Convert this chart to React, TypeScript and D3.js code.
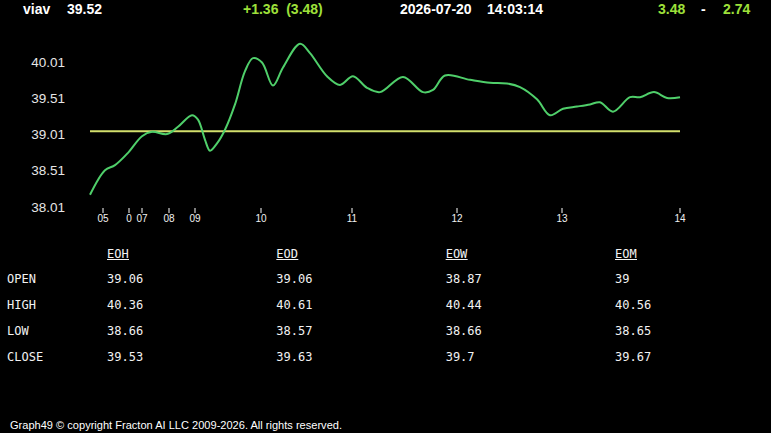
import React, { useEffect } from "react";
import * as d3 from "d3";

// ---- data ----
const symbol = "viav";
const lastPrice = "39.52";
const changeText = "+1.36  (3.48)";
const dateText = "2026-07-20";
const timeText = "14:03:14";
const rangeHigh = "3.48";
const rangeLow = "2.74";

// sample position (bar index) and price
const samplePos = [0, 15, 25, 38, 52, 62, 77, 88, 102, 108, 115, 120, 127, 135, 145, 155, 163, 172, 183, 193, 210, 220, 237, 250, 263, 277, 290, 313, 333, 343, 355, 380, 400, 417, 430, 447, 460, 473, 487, 500, 510, 523, 540, 550, 564, 577, 590];
const sampleVal = [38.18, 38.52, 38.59, 38.76, 38.99, 39.05, 39.02, 39.12, 39.28, 39.22, 38.94, 38.79, 38.89, 39.08, 39.43, 39.89, 40.07, 40.01, 39.69, 39.94, 40.27, 40.14, 39.82, 39.70, 39.82, 39.66, 39.60, 39.81, 39.60, 39.63, 39.83, 39.77, 39.73, 39.72, 39.67, 39.50, 39.28, 39.37, 39.40, 39.43, 39.46, 39.33, 39.53, 39.53, 39.60, 39.52, 39.53];

const openRef = 39.06;

const yTickValues = [40.01, 39.51, 39.01, 38.51, 38.01];
const xTickPos = [13, 39, 52, 79, 105, 171, 262, 367, 472, 590];
const xTickLabels = ["05", "0", "07", "08", "09", "10", "11", "12", "13", "14"];

const tableCols = ["EOH", "EOD", "EOW", "EOM"];
const tableRows = ["OPEN", "HIGH", "LOW", "CLOSE"];
const eohVals = ["39.06", "40.36", "38.66", "39.53"];
const eodVals = ["39.06", "40.61", "38.57", "39.63"];
const eowVals = ["38.87", "40.44", "38.66", "39.7"];
const eomVals = ["39", "40.56", "38.65", "39.67"];
const tableVals = [eohVals, eodVals, eowVals, eomVals];

const footer = "Graph49 \u00A9 copyright Fracton AI LLC 2009-2026. All rights reserved.";

// ---- layout ----
const W = 771;
const H = 433;
const GREEN_TXT = "#9ee03a";
const LINE = "#4fcf6a";
const REF = "#d2df6c";

export default function App() {
  useEffect(() => {
    document.body.style.margin = "0";
    document.body.style.background = "#000";
  }, []);

  const x = d3.scaleLinear().domain([0, 590]).range([90, 680]);
  const y = d3.scaleLinear().domain([38.01, 40.01]).range([207, 62.5]);

  const pts: [number, number][] = samplePos.map((p, i) => [p, sampleVal[i]]);
  const line = d3
    .line<[number, number]>()
    .x((d) => x(d[0]))
    .y((d) => y(d[1]))
    .curve(d3.curveCatmullRom.alpha(0.5));

  const colX = d3.scalePoint<string>().domain(tableCols).range([107, 615]);
  const rowY = d3.scalePoint<string>().domain(tableRows).range([279, 357]);

  const hdr = { fontFamily: "'Liberation Sans', Arial, sans-serif", fontWeight: 700, fontSize: 14 };
  const mono = "'DejaVu Sans Mono', monospace";

  return (
    <svg width={W} height={H} style={{ display: "block", background: "#000" }}>
      <rect width={W} height={H} fill="#000" />
      {/* header */}
      <text x={23} y={14} fill="#fff" {...hdr}>{symbol}</text>
      <text x={67} y={14} fill="#fff" {...hdr}>{lastPrice}</text>
      <text x={243} y={14} fill={GREEN_TXT} {...hdr} style={{ whiteSpace: "pre" }}>{changeText}</text>
      <text x={400} y={14} fill="#fff" {...hdr}>{dateText}</text>
      <text x={487} y={14} fill="#fff" {...hdr}>{timeText}</text>
      <text x={658} y={14} fill={GREEN_TXT} {...hdr}>{rangeHigh}</text>
      <text x={701} y={14} fill="#fff" {...hdr}>-</text>
      <text x={723} y={14} fill={GREEN_TXT} {...hdr}>{rangeLow}</text>

      {/* y axis labels */}
      {yTickValues.map((v) => (
        <text
          key={v}
          x={65}
          y={y(v)}
          textAnchor="end"
          dominantBaseline="central"
          fill="#e6e6e6"
          fontFamily="'Liberation Sans', Arial, sans-serif"
          fontSize={13.5}
        >
          {v.toFixed(2)}
        </text>
      ))}

      {/* x ticks */}
      {xTickPos.map((p, i) => (
        <g key={i}>
          <line x1={x(p)} x2={x(p)} y1={208} y2={213} stroke="#fff" strokeWidth={1} />
          <text
            x={x(p)}
            y={218.5}
            textAnchor="middle"
            dominantBaseline="central"
            fill="#f0f0f0"
            fontFamily="'Liberation Sans', Arial, sans-serif"
            fontSize={10}
          >
            {xTickLabels[i]}
          </text>
        </g>
      ))}

      {/* reference open line */}
      <line x1={x(0)} x2={x(590)} y1={y(openRef)} y2={y(openRef)} stroke={REF} strokeWidth={2} />

      {/* price line */}
      <path d={line(pts) || ""} fill="none" stroke={LINE} strokeWidth={2} />

      {/* table */}
      {tableCols.map((c, ci) => (
        <g key={c}>
          <text x={colX(c)} y={254} dominantBaseline="central" fill="#f2f2f2" fontFamily={mono} fontSize={12}>
            {c}
          </text>
          <line x1={colX(c)!} x2={colX(c)! + 22} y1={259.5} y2={259.5} stroke="#f2f2f2" strokeWidth={1} />
          {tableRows.map((r, ri) => (
            <text key={r} x={colX(c)} y={rowY(r)} dominantBaseline="central" fill="#f2f2f2" fontFamily={mono} fontSize={12}>
              {tableVals[ci][ri]}
            </text>
          ))}
        </g>
      ))}
      {tableRows.map((r) => (
        <text key={r} x={7} y={rowY(r)} dominantBaseline="central" fill="#f2f2f2" fontFamily={mono} fontSize={12}>
          {r}
        </text>
      ))}

      {/* footer */}
      <text
        x={10}
        y={429}
        fill="#fff"
        fontFamily="'Liberation Sans', Arial, sans-serif"
        fontSize={11}
        textLength={332}
        lengthAdjust="spacingAndGlyphs"
      >
        {footer}
      </text>
    </svg>
  );
}
